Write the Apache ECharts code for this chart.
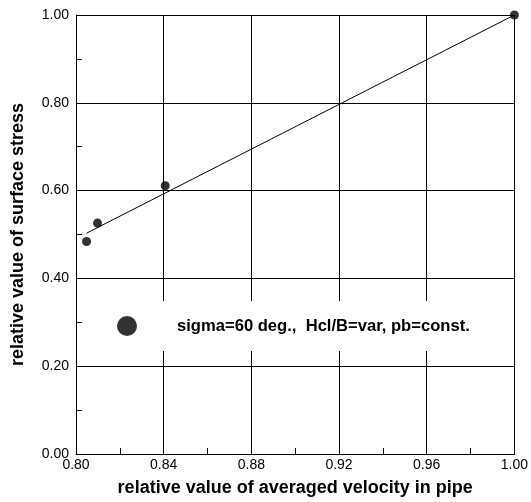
<!DOCTYPE html>
<html>
<head>
<meta charset="utf-8">
<script src="https://cdn.jsdelivr.net/npm/echarts@6/dist/echarts.min.js"></script>
<style>html,body{margin:0;padding:0;background:#fff}#c{width:531px;height:502px}</style>
</head>
<body>
<div id="c"></div>
<script>
const xTicks = ['0.80','0.84','0.88','0.92','0.96','1.00'];
const yTicks = ['0.00','0.20','0.40','0.60','0.80','1.00'];
const pointX = [1.000, 0.8407, 0.8098, 0.8048];
const pointY = [1.000, 0.611, 0.526, 0.484];
const fitX = [0.8048, 1.000];
const fitY = [0.503, 1.000];
const seriesName = 'sigma=60 deg.,  Hcl/B=var, pb=const.';
const xName = 'relative value of averaged velocity in pipe';
const yName = 'relative value of surface stress';

const font = 'Liberation Sans, Arial, sans-serif';
const chart = echarts.init(document.getElementById('c'));
const axisCommon = {
  axisLine: {show: true, lineStyle: {color: '#000', width: 1}},
  axisTick: {show: true, inside: true, length: 6, lineStyle: {color: '#000'}},
  minorTick: {show: true, splitNumber: 2, length: 6, lineStyle: {color: '#000'}},
  splitLine: {show: true, lineStyle: {color: '#000', width: 1}},
  nameLocation: 'middle',
  nameTextStyle: {fontFamily: font, fontWeight: 'bold', fontSize: 18, color: '#000'}
};
chart.setOption({
  animation: false,
  backgroundColor: '#fff',
  grid: {left: 76, right: 13, top: 15, bottom: 46, containLabel: false},
  xAxis: Object.assign({}, axisCommon, {
    type: 'value', min: 0.80, max: 1.00, interval: 0.04,
    name: xName, nameGap: 25,
    axisLabel: {fontFamily: font, fontSize: 14, color: '#000', margin: 4,
      formatter: (v) => xTicks.find(t => Math.abs(parseFloat(t) - v) < 1e-6) || ''}
  }),
  yAxis: Object.assign({}, axisCommon, {
    type: 'value', min: 0, max: 1.0, interval: 0.2,
    name: yName, nameGap: 49, nameRotate: 90,
    axisLabel: {fontFamily: font, fontSize: 14, color: '#000', margin: 7,
      formatter: (v) => yTicks.find(t => Math.abs(parseFloat(t) - v) < 1e-6) || ''}
  }),
  legend: {
    data: [{name: seriesName, icon: 'circle'}],
    left: 82, top: 301,
    padding: [15, 40, 15, 35],
    backgroundColor: '#fff',
    itemWidth: 20, itemHeight: 20,
    selectedMode: false,
    textStyle: {fontFamily: font, fontWeight: 'bold', fontSize: 16.6, color: '#000', padding: [0, 0, 0, 35]}
  },
  series: [
    {
      type: 'line', name: 'fit', data: fitX.map((x, i) => [x, fitY[i]]),
      showSymbol: false, symbol: 'none', lineStyle: {color: '#000', width: 1}, z: 3, clip: false
    },
    {
      type: 'scatter', name: seriesName, data: pointX.map((x, i) => [x, pointY[i]]),
      symbol: 'circle', symbolSize: 9, itemStyle: {color: '#000'}, z: 5, clip: false
    }
  ]
});
</script>
</body>
</html>
